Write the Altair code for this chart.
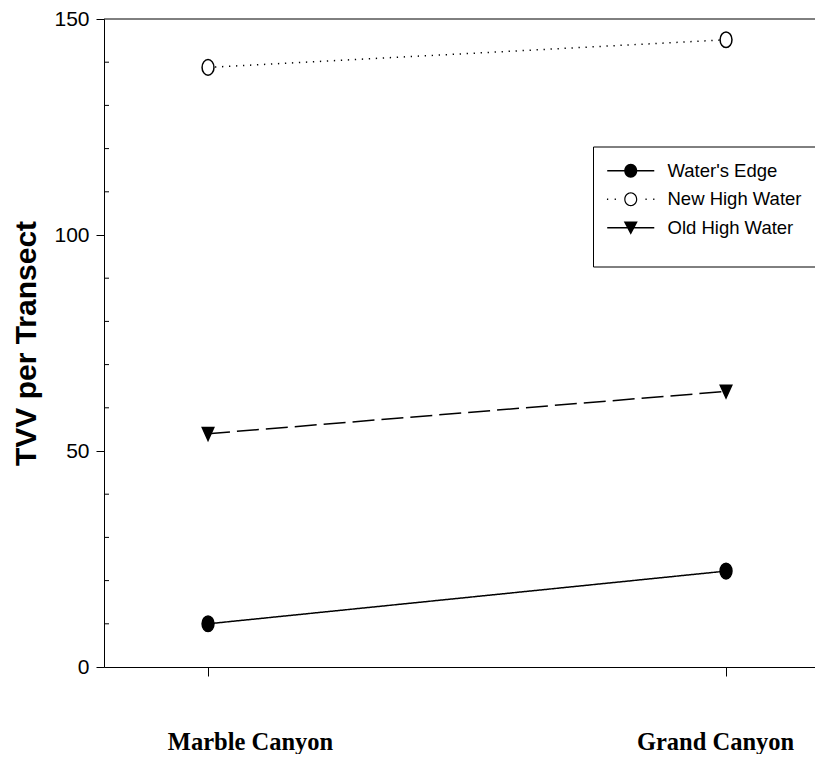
import altair as alt
import pandas as pd

# ---- data ----
sites = ["Marble Canyon", "Grand Canyon"]
series = ["Water's Edge", "New High Water", "Old High Water"]
waters_edge = [10.0, 22.2]
new_high_water = [138.8, 145.2]
old_high_water = [54.0, 63.8]
y_ticks = [0, 50, 100, 150]
y_minor = [10, 20, 30, 40, 60, 70, 80, 90, 110, 120, 130, 140]

# ---- styles ----
dash_patterns = [[1, 0], [1.3, 5.7], [22, 7]]
fill_colors = ["black", "white", "black"]
ellipse = "M-0.7,0A0.7,0.92 0 1,1 0.7,0A0.7,0.92 0 1,1 -0.7,0Z"
tri_down = "M-0.68,-0.72L0.68,-0.72L0,0.78Z"
marker_shapes = [ellipse, ellipse, tri_down]

# legend glyphs drawn as filled paths (line + marker)
bar = "M-3.36,-0.11H3.36V0.11H-3.36Z"
disc = "M-0.93,0A0.93,1 0 1,1 0.93,0A0.93,1 0 1,1 -0.93,0Z"
hole = "M-0.76,0A0.76,0.83 0 1,0 0.76,0A0.76,0.83 0 1,0 -0.76,0Z"
dots = "".join("M%.2f,-0.09h0.18v0.18h-0.18Z" % x for x in (-3.4, -2.3, 2.1, 3.2))
tri = "M-1,-0.9L1,-0.9L0,1Z"
legend_paths = [bar + disc, dots + disc + hole, bar + tri]

df = pd.DataFrame({
    "Site": sites * 3,
    "Series": [s for s in series for _ in sites],
    "TVV": waters_edge + new_high_water + old_high_water,
})
minor_df = pd.DataFrame({"TVV": y_minor})
top_df = pd.DataFrame({"TVV": [max(y_ticks)]})

x_enc = alt.X(
    "Site:N", sort=sites,
    scale=alt.Scale(type="point", domain=sites, padding=0.1863, align=0.539),
    axis=alt.Axis(title=None, labelAngle=0, tickSize=9, tickColor="black", tickWidth=1,
                  domainColor="black", domainWidth=1, labelFont="Liberation Serif",
                  labelFontSize=24.5, labelFontWeight="bold", labelColor="black",
                  labelPadding=54, grid=False, labelLimit=400,
                  labelOffset={"condition": {"test": "datum.value == 'Marble Canyon'", "value": 42},
                               "value": -11}),
)
y_enc = alt.Y(
    "TVV:Q",
    scale=alt.Scale(domain=[0, 150], nice=False, zero=True),
    axis=alt.Axis(values=y_ticks, tickSize=8, tickColor="black", tickWidth=1,
                  domainColor="black", domainWidth=1, labelFont="Liberation Sans",
                  labelFontSize=21, labelColor="black", labelPadding=7, grid=False,
                  title="TVV per Transect", titleFont="Liberation Sans", titleFontSize=30,
                  titleFontWeight="bold", titleColor="black", titlePadding=12),
)

top_rule = alt.Chart(top_df).mark_rule(color="black", strokeWidth=1).encode(
    y=y_enc, x=alt.value(0), x2=alt.value("width"))

minor_ticks = alt.Chart(minor_df).mark_rule(color="black", strokeWidth=1).encode(
    y=y_enc, x=alt.value(0), x2=alt.value(5))

lines = alt.Chart(df).mark_line(color="black", strokeWidth=1.5).encode(
    x=x_enc, y=y_enc,
    strokeDash=alt.StrokeDash("Series:N", scale=alt.Scale(domain=series, range=dash_patterns), legend=None),
)

points = alt.Chart(df).mark_point(filled=True, stroke="black", strokeWidth=1.5, size=289, opacity=1).encode(
    x=x_enc, y=y_enc,
    shape=alt.Shape("Series:N", scale=alt.Scale(domain=series, range=marker_shapes), legend=None),
    fill=alt.Fill("Series:N", scale=alt.Scale(domain=series, range=fill_colors), legend=None),
)

legend_layer = alt.Chart(df).transform_filter("false").mark_point(
    filled=True, fill="black", opacity=1).encode(
    x=x_enc, y=y_enc,
    shape=alt.Shape(
        "Series:N", scale=alt.Scale(domain=series, range=legend_paths),
        legend=alt.Legend(orient="none", legendX=489, legendY=127.5, direction="vertical",
                          title=" ", titleOrient="bottom", titleFontSize=8, titlePadding=6,
                          strokeColor="black", fillColor="white", padding=15,
                          symbolSize=196, symbolFillColor="black", symbolOpacity=1,
                          symbolOffset=13.5, labelOffset=27.5, labelFont="Liberation Sans",
                          labelFontSize=18.5, labelColor="black", rowPadding=7.5,
                          labelLimit=300, cornerRadius=0),
    ),
)

chart = alt.layer(top_rule, minor_ticks, lines, points, legend_layer).resolve_scale(
    shape="independent"
).properties(
    width=711, height=648,
    autosize=alt.AutoSizeParams(type="none"),
    padding={"left": 96, "top": 11, "right": 0, "bottom": 87},
).configure_view(stroke=None)

chart.save("out.html", embed_options={"renderer": "svg", "actions": False})
